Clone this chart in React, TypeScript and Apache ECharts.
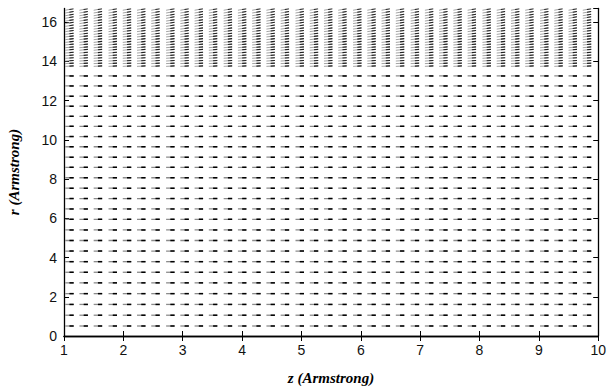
import React, { useEffect, useRef } from "react";
import * as echarts from "echarts";

// Column positions (z, Armstrong) of the field samples
const zValues = [
  1.02, 1.26, 1.5, 1.75, 1.99, 2.23, 2.47, 2.72, 2.96, 3.2, 3.44, 3.69, 3.93,
  4.17, 4.41, 4.65, 4.9, 5.14, 5.38, 5.62, 5.87, 6.11, 6.35, 6.59, 6.84, 7.08,
  7.32, 7.56, 7.8, 8.05, 8.29, 8.53, 8.77, 9.02, 9.26, 9.5, 9.74,
];

// Row positions (r, Armstrong), lower sparse rows
const rLower = [
  0.51, 1.06, 1.61, 2.16, 2.71, 3.25, 3.79, 4.33, 4.87, 5.41, 5.95, 6.48, 7.01,
  7.54, 8.07, 8.6, 9.12, 9.65, 10.17, 10.69, 11.2, 11.72, 12.23, 12.75, 13.26,
];
const angleLower = rLower.map(() => 0);

// Upper dense rows
const rUpper = [
  13.75, 13.89, 14.02, 14.16, 14.29, 14.43, 14.57, 14.7, 14.84, 14.97, 15.11,
  15.25, 15.38, 15.52, 15.65, 15.79, 15.93, 16.06, 16.2, 16.33, 16.47, 16.61,
];
// Director tilt (degrees) for each upper row
const angleUpper = [
  3, 3, 4, 4, 5, 5, 6, 6, 6, 7, 7, 7, 8, 8, 8, 9, 9, 9, 10, 10, 10, 11,
];

const xTicks = [1, 2, 3, 4, 5, 6, 7, 8, 9, 10];

export default function App() {
  const ref = useRef<HTMLDivElement>(null);
  useEffect(() => {
    if (!ref.current) return;
    const chart = echarts.init(ref.current, null, { renderer: "svg" });
    const rows: [number, number, number][] = [
      ...rLower.map((r, i) => [r, angleLower[i], 0] as [number, number, number]),
      ...rUpper.map((r, i) => [r, angleUpper[i], 1] as [number, number, number]),
    ];
    const data: number[][] = [];
    rows.forEach(([r, a, dense]) => {
      zValues.forEach((z) => data.push([z, r, a, dense]));
    });
    const labelFont = {
      fontFamily: "Liberation Sans, Arial, sans-serif",
      fontSize: 14,
      color: "#111",
    };
    const tick = { show: true, inside: true, length: 5, lineStyle: { color: "#000", width: 1 } };
    const line = { show: true, lineStyle: { color: "#000", width: 1.3 } };
    chart.setOption({
      animation: false,
      backgroundColor: "#fff",
      grid: { left: 64, right: 10, top: 8.5, bottom: 52, containLabel: false },
      xAxis: [
        {
          type: "value",
          min: 1,
          max: 10,
          interval: 1,
          axisLine: line,
          axisTick: tick,
          splitLine: { show: false },
          axisLabel: { ...labelFont, margin: 7, formatter: (v: number) => (xTicks.includes(v) ? String(v) : "") },
        },
        {
          type: "value",
          position: "top",
          min: 1,
          max: 10,
          interval: 1,
          axisLine: line,
          axisTick: tick,
          splitLine: { show: false },
          axisLabel: { show: false },
        },
      ],
      yAxis: [
        {
          type: "value",
          min: 0,
          max: 16.7,
          interval: 2,
          axisLine: line,
          axisTick: tick,
          splitLine: { show: false },
          axisLabel: { ...labelFont, margin: 7, showMaxLabel: false },
        },
        {
          type: "value",
          position: "right",
          min: 0,
          max: 16.7,
          interval: 2,
          axisLine: line,
          axisTick: tick,
          splitLine: { show: false },
          axisLabel: { show: false },
        },
      ],
      graphic: [
        {
          type: "text",
          x: 331,
          y: 378,
          style: {
            text: "z (Armstrong)",
            font: "italic bold 15px 'Liberation Serif', 'Times New Roman', serif",
            fill: "#000",
            align: "center",
            verticalAlign: "middle",
          },
        },
        {
          type: "text",
          x: 14,
          y: 172,
          rotation: Math.PI / 2,
          style: {
            text: "r (Armstrong)",
            font: "italic bold 15px 'Liberation Serif', 'Times New Roman', serif",
            fill: "#000",
            align: "center",
            verticalAlign: "middle",
          },
        },
      ],
      series: [
        {
          type: "custom",
          xAxisIndex: 0,
          yAxisIndex: 0,
          clip: true,
          data,
          renderItem: (params: any, api: any) => {
            const p = api.coord([api.value(0), api.value(1)]);
            const a = (api.value(2) * Math.PI) / 180;
            const dense = api.value(3) === 1;
            const L = 8.5;
            const dx = L * Math.cos(a);
            const dy = -L * Math.sin(a);
            const w = dense ? 0.9 : 1.3;
            return {
              type: "group",
              children: [
                {
                  type: "line",
                  shape: { x1: p[0], y1: p[1], x2: p[0] + dx, y2: p[1] + dy },
                  style: { stroke: dense ? "#9a9a9a" : "#8c8c8c", lineWidth: w },
                },
                {
                  type: "line",
                  shape: { x1: p[0] + dx * 0.5, y1: p[1] + dy * 0.5, x2: p[0] + dx, y2: p[1] + dy },
                  style: { stroke: dense ? "#222" : "#000", lineWidth: w + 0.2 },
                },
              ],
            };
          },
        },
      ],
    });
    return () => chart.dispose();
  }, []);
  return <div ref={ref} style={{ width: 609, height: 388, position: "absolute", left: 0, top: 0 }} />;
}
